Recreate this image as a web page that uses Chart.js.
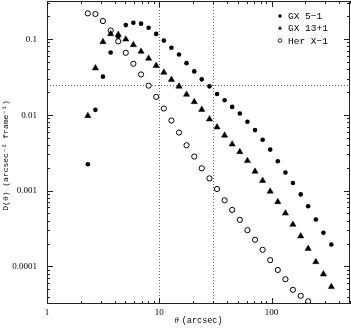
<!DOCTYPE html>
<html>
<head>
<meta charset="utf-8">
<script src="https://cdn.jsdelivr.net/npm/chart.js@4.4.1/dist/chart.umd.min.js"></script>
<style>
  html, body { margin: 0; padding: 0; background: #fff; }
  #wrap { width: 351px; height: 328px; }
</style>
</head>
<body>
<div id="wrap"><canvas id="chart"></canvas></div>
<script>
// ---------------------------
// data
// ---------------------------
const theta = [2.31, 2.70, 3.15, 3.69, 4.31, 5.03, 5.88, 6.88, 8.04, 9.39,
    10.98, 12.83, 15.0, 17.5, 20.5, 23.9, 28.0, 32.7, 38.2, 44.6,
    52.2, 61.0, 71.3, 83.3, 97.3, 113.7, 133, 155, 182, 212,
    248, 290, 341];

const gx51 = [0.00223, 0.0116, 0.0318, 0.0661, 0.107, 0.152, 0.1636, 0.159, 0.1406, 0.1164,
    0.0950, 0.0763, 0.0623, 0.0479, 0.0373, 0.0293, 0.0237, 0.0188, 0.0155, 0.0127,
    0.0104, 0.00807, 0.00628, 0.00469, 0.00347, 0.00244, 0.00173, 0.00126, 0.000892, 0.000621,
    0.000416, 0.000278, 0.000195];

const gx131 = [0.00968, 0.0412, 0.0914, 0.1164, 0.1138, 0.0988, 0.0834, 0.0682, 0.0552, 0.0443,
    0.0361, 0.0290, 0.0237, 0.0185, 0.0148, 0.0117, 0.00875, 0.00687, 0.00535, 0.00408,
    0.00324, 0.00247, 0.00179, 0.00135, 0.000977, 0.000710, 0.000503, 0.000357, 0.000251, 0.000172,
    0.000115, 0.0000791, 0.0000539];

const herx1 = [0.217, 0.213, 0.172, 0.129, 0.093, 0.0656, 0.047, 0.034, 0.0242, 0.0172,
    0.0121, 0.0084, 0.00582, 0.00396, 0.00281, 0.00197, 0.00145, 0.00105, 0.000745, 0.000557,
    0.000412, 0.000301, 0.000225, 0.000166, 0.000121, 0.0000899, 0.0000679, 0.0000492, 0.000041, 0.0000347];

const seriesNames = ['GX 5\u22121', 'GX 13+1', 'Her X\u22121'];
const xLabelTicks = [1, 10, 100];
const yLabelTicks = [0.1, 0.01, 0.001, 0.0001];
const refX = [10, 30];
const refY = [0.025];
const xTitle = '(arcsec)';
const yTitle = 'D(\u03b8) (arcsec\u207b\u00b2 frame\u207b\u00b9)';

const SERIF = '"Liberation Serif", "DejaVu Serif", serif';
const MONO = '"Liberation Mono", "DejaVu Sans Mono", monospace';

function toPoints(ys) {
    return ys.map((y, i) => ({ x: theta[i], y: y }));
}

// box, inner ticks on all sides, labels, dotted guides, legend
const framePlugin = {
    id: 'frame',
    beforeDatasetsDraw(chart) {
        const { ctx, chartArea: a, scales } = chart;
        ctx.save();
        ctx.strokeStyle = '#666';
        ctx.lineWidth = 1;
        ctx.setLineDash([1, 2]);
        refX.forEach(v => {
            const px = Math.round(scales.x.getPixelForValue(v)) + 0.5;
            ctx.beginPath(); ctx.moveTo(px, a.top); ctx.lineTo(px, a.bottom); ctx.stroke();
        });
        refY.forEach(v => {
            const py = Math.round(scales.y.getPixelForValue(v)) + 0.5;
            ctx.beginPath(); ctx.moveTo(a.left, py); ctx.lineTo(a.right, py); ctx.stroke();
        });
        ctx.restore();
    },
    afterDraw(chart) {
        const { ctx, chartArea: a, scales } = chart;
        ctx.save();
        ctx.strokeStyle = '#222';
        ctx.lineWidth = 1;
        ctx.strokeRect(a.left + 0.5, a.top + 0.5, a.right - a.left - 1, a.bottom - a.top - 1);

        // x ticks (bottom + top)
        for (let d = 1; d <= 100; d *= 10) {
            for (let m = 1; m <= 9; m++) {
                const v = d * m;
                if (v > scales.x.max) break;
                const px = Math.round(scales.x.getPixelForValue(v)) + 0.5;
                const len = m === 1 ? 6 : 3;
                ctx.beginPath();
                ctx.moveTo(px, a.bottom); ctx.lineTo(px, a.bottom - len);
                ctx.moveTo(px, a.top); ctx.lineTo(px, a.top + len);
                ctx.stroke();
            }
        }
        // y ticks (left + right)
        for (let d = 0.00001; d < 1; d *= 10) {
            for (let m = 1; m <= 9; m++) {
                const v = d * m;
                if (v < scales.y.min || v > scales.y.max) continue;
                const py = Math.round(scales.y.getPixelForValue(v)) + 0.5;
                const len = m === 1 ? 6 : 3;
                ctx.beginPath();
                ctx.moveTo(a.left, py); ctx.lineTo(a.left + len, py);
                ctx.moveTo(a.right, py); ctx.lineTo(a.right - len, py);
                ctx.stroke();
            }
        }

        // tick labels
        ctx.fillStyle = '#000';
        ctx.font = '9px ' + SERIF;
        ctx.textBaseline = 'middle';
        ctx.textAlign = 'right';
        yLabelTicks.forEach(v => {
            ctx.fillText(String(v), a.left - 10, scales.y.getPixelForValue(v) + 0.5);
        });
        ctx.textAlign = 'center';
        xLabelTicks.forEach(v => {
            ctx.fillText(String(v), scales.x.getPixelForValue(v), a.bottom + 9);
        });

        // axis titles
        ctx.font = '8.5px ' + MONO;
        const xc = (a.left + a.right) / 2;
        const w = ctx.measureText(xTitle).width;
        ctx.textAlign = 'left';
        ctx.font = 'italic 8.5px ' + SERIF;
        const tw = ctx.measureText('\u03b8 ').width + 1;
        const x0 = xc - (w + tw) / 2;
        ctx.fillText('\u03b8', x0, 321);
        ctx.font = '8.5px ' + MONO;
        ctx.fillText(xTitle, x0 + tw, 321);

        ctx.font = '8px ' + MONO;
        ctx.translate(6, (a.top + a.bottom) / 2 + 3);
        ctx.rotate(-Math.PI / 2);
        ctx.textAlign = 'center';
        ctx.fillText(yTitle, 0, 0);
        ctx.setTransform(1, 0, 0, 1, 0, 0);

        // legend
        const lx = 280, ly = 16, step = 12.3;
        ctx.font = '9.5px ' + MONO;
        ctx.textAlign = 'left';
        ctx.textBaseline = 'middle';
        chart.data.datasets.forEach((ds, i) => {
            const y = ly + i * step;
            ctx.beginPath();
            if (ds.pointStyle === 'triangle') {
                ctx.moveTo(lx, y - 2.2); ctx.lineTo(lx + 2, y + 1.3); ctx.lineTo(lx - 2, y + 1.3);
                ctx.closePath(); ctx.fill();
            } else if (ds.pointBackgroundColor === '#fff') {
                ctx.arc(lx, y, 1.8, 0, Math.PI * 2); ctx.stroke();
            } else {
                ctx.arc(lx, y, 1.7, 0, Math.PI * 2); ctx.fill();
            }
            ctx.fillText(ds.label, lx + 8, y + 0.5);
        });
        ctx.restore();
    }
};

const ctx = document.getElementById('chart');
new Chart(ctx, {
    type: 'scatter',
    data: {
        datasets: [
            {
                label: seriesNames[0],
                data: toPoints(gx51),
                pointStyle: 'circle',
                pointRadius: 2.3,
                pointBackgroundColor: '#000',
                pointBorderWidth: 0,
                order: 1
            },
            {
                label: seriesNames[1],
                data: toPoints(gx131),
                pointStyle: 'triangle',
                pointRadius: 3.6,
                pointBackgroundColor: '#000',
                pointBorderColor: '#000',
                pointBorderWidth: 0.5,
                order: 0
            },
            {
                label: seriesNames[2],
                data: toPoints(herx1),
                pointStyle: 'circle',
                pointRadius: 2.6,
                pointBackgroundColor: '#fff',
                pointBorderColor: '#000',
                pointBorderWidth: 1,
                order: 2
            }
        ]
    },
    options: {
        responsive: true,
        maintainAspectRatio: false,
        animation: false,
        events: [],
        layout: { autoPadding: false, padding: { top: 1, right: 1, left: 47, bottom: 24 } },
        plugins: {
            legend: { display: false },
            tooltip: { enabled: false }
        },
        scales: {
            x: {
                type: 'logarithmic',
                min: 1,
                max: 500,
                grid: { display: false, drawTicks: false },
                border: { display: false },
                ticks: { display: false },
                afterFit: s => { s.height = 0; }
            },
            y: {
                type: 'logarithmic',
                min: 0.000032,
                max: 0.316,
                grid: { display: false, drawTicks: false },
                border: { display: false },
                ticks: { display: false },
                afterFit: s => { s.width = 0; }
            }
        }
    },
    plugins: [framePlugin]
});
</script>
</body>
</html>
